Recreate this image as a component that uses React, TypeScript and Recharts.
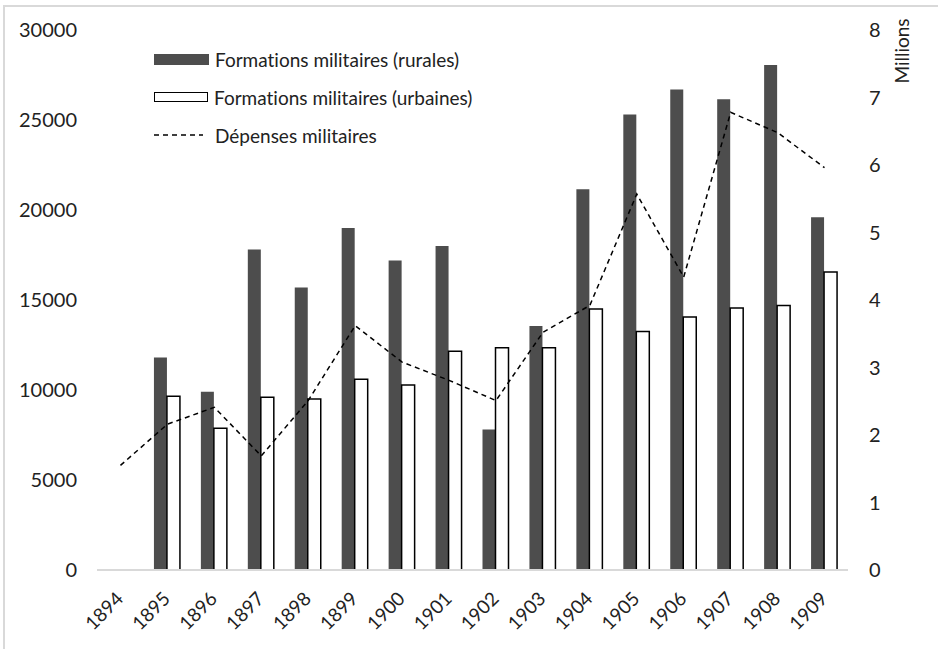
import React from 'react'
import { ComposedChart, Bar, Line, XAxis, YAxis, Legend } from 'recharts'

const years = ['1894', '1895', '1896', '1897', '1898', '1899', '1900', '1901', '1902', '1903', '1904', '1905', '1906', '1907', '1908', '1909']
const rural = [null, 11800, 9900, 17800, 15700, 19000, 17200, 18000, 7800, 13550, 21150, 25300, 26700, 26150, 28050, 19600]
const urban = [null, 9650, 7870, 9600, 9500, 10600, 10280, 12150, 12350, 12350, 14500, 13250, 14050, 14550, 14700, 16550]
const spending = [1.55, 2.16, 2.41, 1.69, 2.51, 3.62, 3.08, 2.81, 2.51, 3.52, 3.92, 5.57, 4.34, 6.78, 6.48, 5.96]

const leftTicks = [0, 5000, 10000, 15000, 20000, 25000, 30000]
const rightTicks = [0, 1, 2, 3, 4, 5, 6, 7, 8]

const labelRural = 'Formations militaires (rurales)'
const labelUrban = 'Formations militaires (urbaines)'
const labelSpending = 'Dépenses militaires'

const FONT = 'Lato, "DejaVu Sans", sans-serif'
const TEXT = '#222'
const DARK = '#4d4d4d'

const data = years.map((year, i) => ({
  year,
  rural: rural[i],
  urban: urban[i],
  spending: spending[i],
}))

function YearTick(props: any) {
  const { x, y, payload } = props
  const tx = x + 4
  const ty = y + 22
  return (
    <text x={tx} y={ty} textAnchor="end" fill={TEXT} fontSize={19} fontFamily={FONT} transform={`rotate(-45, ${tx}, ${ty})`}>
      {payload.value}
    </text>
  )
}

function LegendBox() {
  const row = { display: 'flex', alignItems: 'center', height: 38 } as const
  const txt = { marginLeft: 6, fontSize: 19, color: TEXT, fontFamily: FONT, whiteSpace: 'nowrap', fontVariantLigatures: 'none' } as const
  return (
    <div>
      <div style={row}>
        <div style={{ width: 55, height: 11, background: DARK }} />
        <span style={txt}>{labelRural}</span>
      </div>
      <div style={row}>
        <div style={{ width: 52, height: 8, background: '#fff', border: '1.5px solid #000' }} />
        <span style={txt}>{labelUrban}</span>
      </div>
      <div style={row}>
        <svg width={55} height={4}>
          <line x1={0} y1={2} x2={49} y2={2} stroke="#000" strokeWidth={1.5} strokeDasharray="5 4" />
        </svg>
        <span style={txt}>{labelSpending}</span>
      </div>
    </div>
  )
}

export default function App() {
  return (
    <div style={{ position: 'absolute', left: 0, top: 0, width: 938, height: 649, overflow: 'hidden', background: '#fff' }}>
      <div style={{ position: 'absolute', left: 3, top: 5, width: 960, height: 700, borderLeft: '2px solid #d9d9d9', borderTop: '2px solid #d9d9d9' }} />
      <ComposedChart width={938} height={649} data={data} margin={{ top: 30, right: 0, bottom: 0, left: 0 }} barGap={0}>
        <XAxis
          dataKey="year"
          height={79}
          interval={0}
          tickLine={false}
          axisLine={{ stroke: '#d9d9d9', strokeWidth: 2 }}
          tick={<YearTick />}
        />
        <YAxis
          yAxisId="left"
          width={97}
          domain={[0, 30000]}
          ticks={leftTicks}
          interval={0}
          axisLine={false}
          tickLine={false}
          tickSize={0}
          tickMargin={20}
          tick={{ fill: TEXT, fontSize: 20, fontFamily: FONT }}
        />
        <YAxis
          yAxisId="right"
          orientation="right"
          width={90}
          domain={[0, 8]}
          ticks={rightTicks}
          interval={0}
          axisLine={false}
          tickLine={false}
          tickSize={0}
          tickMargin={21}
          tick={{ fill: TEXT, fontSize: 20, fontFamily: FONT }}
          label={{
            content: () => (
              <text transform="translate(909, 51) rotate(-90)" textAnchor="middle" fill={TEXT} fontSize={19} fontFamily={FONT}>
                Millions
              </text>
            ),
          }}
        />
        <Legend
          verticalAlign="middle"
          align="center"
          layout="vertical"
          content={<LegendBox />}
          wrapperStyle={{ left: 154, top: 40, width: 400, height: 114 }}
        />
        <Bar yAxisId="left" dataKey="rural" name={labelRural} fill={DARK} barSize={13} isAnimationActive={false} />
        <Bar yAxisId="left" dataKey="urban" name={labelUrban} fill="#fff" stroke="#000" strokeWidth={1.5} barSize={13} isAnimationActive={false} />
        <Line
          yAxisId="right"
          type="linear"
          dataKey="spending"
          name={labelSpending}
          stroke="#000"
          strokeWidth={1.5}
          strokeDasharray="5 4"
          dot={false}
          activeDot={false}
          isAnimationActive={false}
        />
      </ComposedChart>
    </div>
  )
}
